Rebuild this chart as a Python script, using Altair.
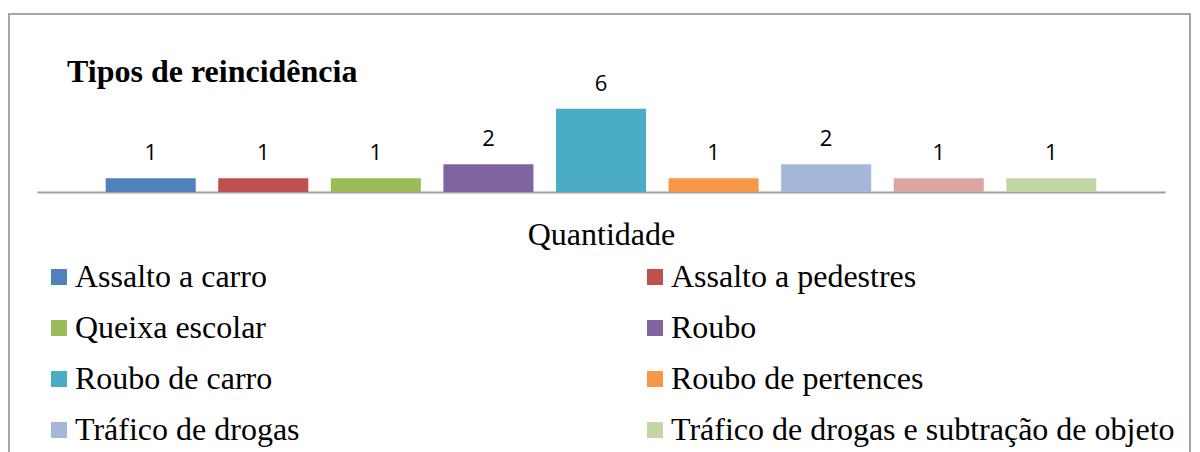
import altair as alt
import pandas as pd

categorias = [
    "Assalto a carro",
    "Assalto a pedestres",
    "Queixa escolar",
    "Roubo",
    "Roubo de carro",
    "Roubo de pertences",
    "Tráfico de drogas",
    "Outros",
    "Tráfico de drogas e subtração de objeto",
]
valores = [1, 1, 1, 2, 6, 1, 2, 1, 1]
cores = ["#4F81BD", "#C0504D", "#9BBB59", "#8064A2", "#4BACC6",
         "#F79646", "#A5B7D9", "#DAA5A3", "#C5D6A6"]
# legend entries (filled column by column)
legenda = [
    "Assalto a carro",
    "Queixa escolar",
    "Roubo de carro",
    "Tráfico de drogas",
    "Assalto a pedestres",
    "Roubo",
    "Roubo de pertences",
    "Tráfico de drogas e subtração de objeto",
]
titulo = "Tipos de reincidência"

df = pd.DataFrame({"categoria": categorias, "valor": valores})

x = alt.X(
    "categoria:N",
    sort=categorias,
    scale=alt.Scale(paddingInner=0.2, paddingOuter=0.61),
    axis=alt.Axis(
        labels=False, ticks=False, title="Quantidade",
        titleFont="Liberation Serif", titleFontSize=32, titleFontWeight="normal",
        titleColor="black", titlePadding=27,
        domainColor="#A0A0A0", domainWidth=2, grid=False,
    ),
)
y = alt.Y("valor:Q", scale=alt.Scale(domain=[0, 7]), axis=None)

bars = alt.Chart(df).mark_bar().encode(
    x=x,
    y=y,
    color=alt.Color(
        "categoria:N",
        scale=alt.Scale(domain=categorias, range=cores),
        legend=alt.Legend(
            values=legenda, title=None, orient="none", legendX=6, legendY=166,
            columns=2, columnPadding=339, rowPadding=19,
            symbolType="square", symbolSize=256, symbolStrokeWidth=0,
            labelFont="Liberation Serif", labelFontSize=32, labelColor="black",
            labelOffset=0, labelLimit=700,
        ),
    ),
)

text = alt.Chart(df).mark_text(
    baseline="alphabetic", dy=-18, font="Open Sans", fontSize=22, color="black"
).encode(x=x, y=y, text="valor:Q")

single = pd.DataFrame({"t": [titulo]})

border = alt.Chart(single).mark_rect(
    filled=False, stroke="#A6A6A6", strokeWidth=2
).encode(
    x=alt.value(-28), x2=alt.value(1153), y=alt.value(-81), y2=alt.value(500)
)

title_mark = alt.Chart(single).mark_text(
    align="left", baseline="alphabetic", font="Liberation Serif",
    fontSize=32, fontWeight="bold", color="black"
).encode(x=alt.value(30), y=alt.value(-13), text="t:N")

chart = alt.layer(border, bars, text, title_mark).properties(
    width=1128,
    height=97,
    autosize=alt.AutoSizeParams(type="none"),
    padding={"left": 29, "top": 87, "right": 27, "bottom": 380},
).configure_view(stroke=None)

chart.save("out.html", embed_options={"renderer": "svg", "actions": False})
